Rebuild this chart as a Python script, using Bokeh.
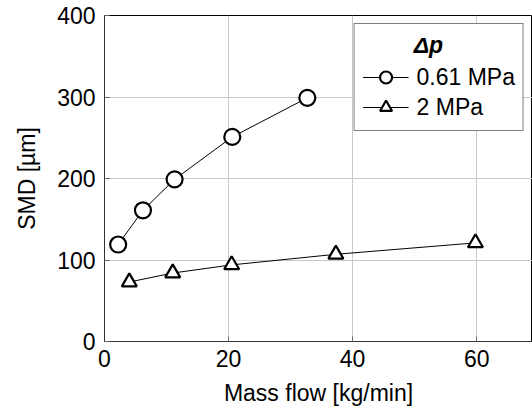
from bokeh.plotting import figure
from bokeh.models import Range1d, Legend, LegendItem, FixedTicker
from bokeh.embed import file_html
from bokeh.resources import INLINE

# Data
flow_061 = [2.2, 6.2, 11.3, 20.6, 32.7]
smd_061 = [119, 161, 199, 251, 299]
flow_2 = [4.0, 11.0, 20.5, 37.3, 59.8]
smd_2 = [73, 84, 94, 107, 121]
x_ticks = [0, 20, 40, 60]
y_ticks = [0, 100, 200, 300, 400]
series_names = ["0.61 MPa", "2 MPa"]
legend_title = "Δp"

FONT = "Liberation Sans"
FS = "23px"

p = figure(width=532, height=412, output_backend="svg", toolbar_location=None,
           x_range=Range1d(0, 69.0), y_range=Range1d(0, 400),
           min_border_left=104, min_border_right=0, min_border_top=15, min_border_bottom=71)

p.outline_line_color = "black"
p.outline_line_width = 1
p.background_fill_color = "white"
p.border_fill_color = "white"

for ax in (p.xaxis[0], p.yaxis[0]):
    ax.axis_line_color = "#333333"
    ax.major_tick_in = 5
    ax.major_tick_out = 0
    ax.major_tick_line_color = "#666666"
    ax.minor_tick_line_color = None
    ax.major_label_text_font = FONT
    ax.major_label_text_font_size = FS
    ax.major_label_text_color = "black"
    ax.axis_label_text_font = FONT
    ax.axis_label_text_font_size = FS
    ax.axis_label_text_font_style = "normal"
    ax.axis_label_text_color = "black"

p.xaxis.ticker = FixedTicker(ticks=x_ticks)
p.yaxis.ticker = FixedTicker(ticks=y_ticks)
p.xaxis.axis_label = "Mass flow [kg/min]"
p.yaxis.axis_label = "SMD [µm]"
p.xaxis.major_label_standoff = 8
p.yaxis.major_label_standoff = 9
p.xaxis.axis_label_standoff = 10
p.yaxis.axis_label_standoff = 14

p.xgrid.grid_line_color = "#c8c8c8"
p.ygrid.grid_line_color = "#c8c8c8"
p.xgrid.ticker = FixedTicker(ticks=x_ticks)
p.ygrid.ticker = FixedTicker(ticks=y_ticks)

l1 = p.line(flow_061, smd_061, line_color="black", line_width=1)
m1 = p.scatter(flow_061, smd_061, marker="circle", size=16, fill_color="white",
               line_color="black", line_width=2.2)
l2 = p.line(flow_2, smd_2, line_color="black", line_width=1)
m2 = p.scatter(flow_2, smd_2, marker="triangle", size=15, fill_color="white",
               line_color="black", line_width=2.2)

# non-breaking spaces push the title towards the centre of the legend box
legend = Legend(items=[LegendItem(label=series_names[0], renderers=[l1, m1]),
                       LegendItem(label=series_names[1], renderers=[l2, m2])],
                location="top_right", title="\u00a0" * 8 + legend_title,
                title_text_font=FONT, title_text_font_size=FS, title_text_color="black",
                title_text_font_style="bold italic", title_standoff=3,
                label_text_font=FONT, label_text_font_size=FS, label_text_color="black",
                glyph_width=46, glyph_height=30, label_standoff=8,
                spacing=0, padding=8, margin=8,
                border_line_color="black", border_line_width=1,
                background_fill_alpha=1.0)
p.add_layout(legend)

open("out.html", "w").write(file_html(p, INLINE))
